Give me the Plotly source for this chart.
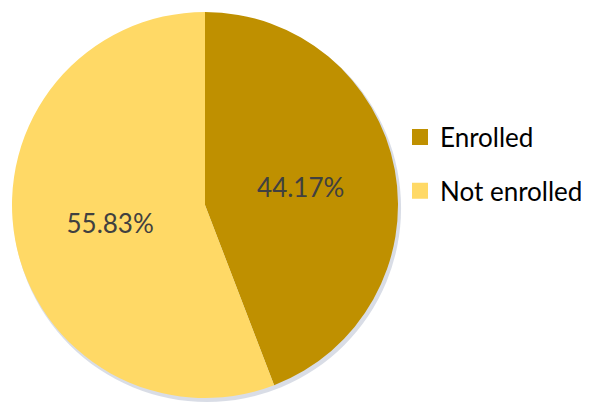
import plotly.graph_objects as go

labels = ["Enrolled", "Not enrolled"]
values = [44.17, 55.83]
colors = ["#BF9000", "#FFD966"]

W, H = 589, 404
OFF = 8  # page body margin offset


def xd(a, b):
    return [(a - OFF) / W, (b - OFF) / W]


def yd(top, bottom):
    return [1 - (bottom - OFF) / H, 1 - (top - OFF) / H]


fig = go.Figure()

# soft shadow behind the pie
fig.add_trace(go.Pie(
    values=[1], labels=["shadow"], sort=False,
    marker=dict(colors=["rgba(170,180,200,0.45)"], line=dict(width=0)),
    textinfo="none", hoverinfo="skip", showlegend=False,
    domain=dict(x=xd(13, 401), y=yd(14, 402)),
))

fig.add_trace(go.Pie(
    labels=labels,
    values=values,
    sort=False,
    direction="clockwise",
    rotation=0,
    marker=dict(colors=colors, line=dict(width=0)),
    texttemplate="%{value:.2f}%",
    textposition="inside",
    insidetextorientation="horizontal",
    textfont=dict(family="Lato", size=26, color="#404040"),
    domain=dict(x=xd(12, 398), y=yd(12, 398)),
    hoverinfo="label+percent",
    showlegend=False,
))

# legend entries
for i, (lab, col) in enumerate(zip(labels, colors)):
    fig.add_trace(go.Scatter(
        x=[None], y=[None], mode="markers", name=lab,
        marker=dict(symbol="square", size=17, color=col),
        legendgroup=f"g{i}", showlegend=True, hoverinfo="skip",
    ))

fig.update_layout(
    width=W, height=H,
    margin=dict(l=0, r=0, t=0, b=0),
    paper_bgcolor="white",
    plot_bgcolor="white",
    xaxis=dict(visible=False),
    yaxis=dict(visible=False),
    legend=dict(
        x=(400 - OFF) / W, y=1 - (164 - OFF) / H, xanchor="left", yanchor="middle",
        font=dict(family="Lato", size=26, color="#000000"),
        itemsizing="trace",
        tracegroupgap=17,
        bgcolor="rgba(0,0,0,0)",
    ),
    showlegend=True,
)
fig.write_html("out.html")
